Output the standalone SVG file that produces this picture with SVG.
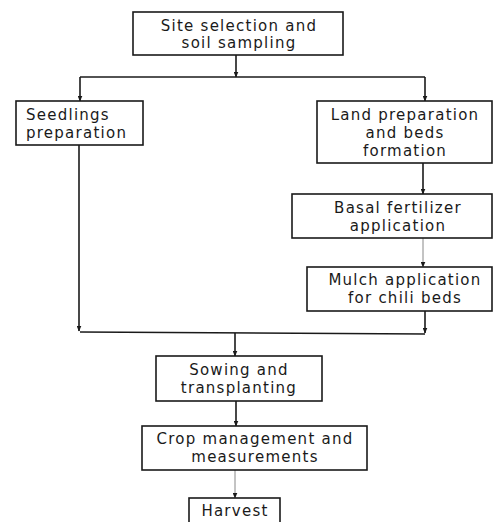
<svg xmlns="http://www.w3.org/2000/svg" width="493" height="522" viewBox="0 0 493 522">
<style>
.box{fill:#fff;stroke:#1a1a1a;stroke-width:1.6}
.t{font-family:"DejaVu Sans","Liberation Sans",sans-serif;font-size:15px;letter-spacing:1.25px;fill:#1a1a1a}
.c{text-anchor:middle}
.ln{fill:none;stroke:#1a1a1a;stroke-width:1.6}
.lg{fill:none;stroke:#888;stroke-width:1}
</style>
<defs>
<marker id="ah" markerWidth="6" markerHeight="5" refX="5.5" refY="2.5" orient="auto" markerUnits="userSpaceOnUse">
<path d="M0,0 L6,2.5 L0,5 Z" fill="#1a1a1a"/>
</marker>
</defs>
<rect width="493" height="522" fill="#fff"/>
<g id="connectors">
<path class="ln" d="M236,55 V77" marker-end="url(#ah)"/>
<path class="ln" d="M80,77 H425"/>
<path class="ln" d="M80,77 V101" marker-end="url(#ah)"/>
<path class="ln" d="M425,77 V101" marker-end="url(#ah)"/>
<path class="ln" d="M79,133 V331" marker-end="url(#ah)"/>
<path class="ln" d="M423,163 V194" marker-end="url(#ah)"/>
<path class="lg" d="M423,238 V267" marker-end="url(#ah)"/>
<path class="ln" d="M425,311 V333" marker-end="url(#ah)"/>
<path class="ln" d="M80,332 L425,334"/>
<path class="ln" d="M235,333 V356" marker-end="url(#ah)"/>
<path class="ln" d="M236,401 V426" marker-end="url(#ah)"/>
<path class="lg" d="M235,470 V498" marker-end="url(#ah)"/>
</g>
<g id="n1"><rect class="box" x="133" y="12" width="210" height="43"/>
<text class="t c" x="239" y="30.5">Site selection and</text><text class="t c" x="239" y="48">soil sampling</text></g>
<g id="n2"><rect class="box" x="16" y="101" width="127" height="44"/>
<text class="t" x="26" y="119.5">Seedlings</text><text class="t" x="26" y="137.5">preparation</text></g>
<g id="n3"><rect class="box" x="317" y="101" width="175" height="62"/>
<text class="t c" x="405" y="119.5">Land preparation</text><text class="t c" x="405" y="137.5">and beds</text><text class="t c" x="405" y="156">formation</text></g>
<g id="n4"><rect class="box" x="292" y="194" width="200" height="44"/>
<text class="t c" x="398" y="213">Basal fertilizer</text><text class="t c" x="398" y="231">application</text></g>
<g id="n5"><rect class="box" x="307" y="267" width="185" height="44"/>
<text class="t c" x="405" y="285">Mulch application</text><text class="t c" x="405" y="302.5">for chili beds</text></g>
<g id="n6"><rect class="box" x="156" y="356" width="166" height="45"/>
<text class="t c" x="239" y="375">Sowing and</text><text class="t c" x="239" y="392.5">transplanting</text></g>
<g id="n7"><rect class="box" x="142" y="426" width="225" height="44"/>
<text class="t c" x="255" y="444">Crop management and</text><text class="t c" x="255" y="461.5">measurements</text></g>
<g id="n8"><rect class="box" x="189" y="498" width="91" height="30"/>
<text class="t c" x="235" y="515.5">Harvest</text></g>
</svg>
